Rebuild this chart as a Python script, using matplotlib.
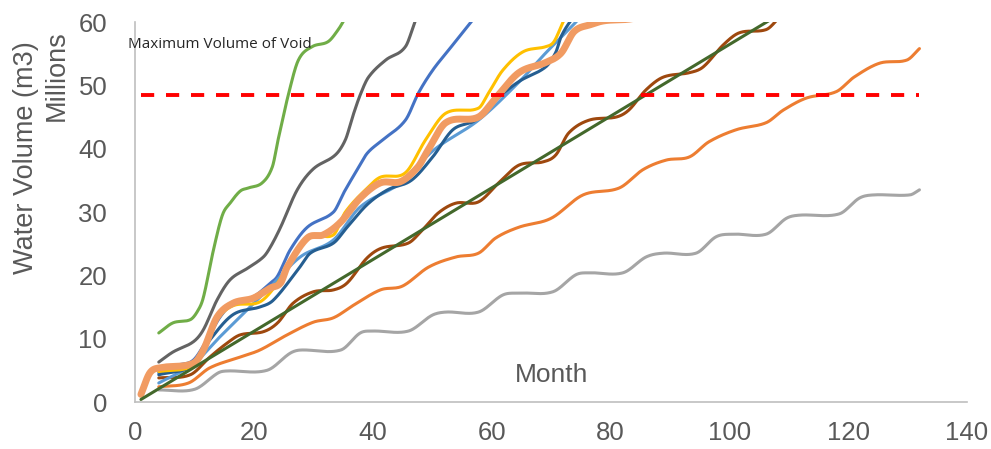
import numpy as np
import matplotlib
matplotlib.use("Agg")
import matplotlib.pyplot as plt

plt.rcParams["font.family"] = ["Liberation Sans", "DejaVu Sans"]
plt.rcParams["lines.scale_dashes"] = False

# ---- data: cumulative water volume (millions of m3) by month ----
green_month = [4, 6.4, 9.3, 10.5, 11.5, 13.2, 14.7, 16, 17.7, 19.1, 21.4, 23.1, 24.1, 25.8, 27.5, 29.8, 32.5, 34.2, 35.3, 36.5]
green_vol = [10.9, 12.5, 13.0, 14.3, 16.5, 24.0, 29.5, 31.4, 33.3, 33.8, 34.6, 37.1, 41.5, 48.5, 54.0, 56.1, 56.9, 58.8, 60.5, 62.5]

dgrey_month = [4, 6.4, 9.8, 11.5, 13.8, 16, 18.9, 21.6, 22.8, 24.5, 27.3, 30, 33.7, 35.4, 36.6, 37.9, 39.3, 42.2, 45.5, 47.3, 48.5]
dgrey_vol = [6.3, 7.9, 9.5, 11.4, 16.1, 19.3, 21.1, 22.9, 24.5, 27.6, 33.5, 36.8, 39.0, 41.4, 45.0, 48.5, 51.3, 54.0, 56.1, 60.5, 62.5]

blue_month = [4, 7.1, 9.8, 12.1, 14.3, 16.5, 19.9, 22.8, 24, 26.1, 29, 33.4, 35.1, 37.4, 39.1, 41.7, 45.5, 47.7, 50.1, 52.8, 56.8, 58]
blue_vol = [4.6, 5.8, 6.6, 9.8, 13.4, 15.6, 16.6, 18.8, 19.9, 24.0, 27.6, 30.0, 33.0, 36.7, 39.3, 41.4, 44.5, 48.8, 52.4, 55.6, 60.3, 62.0]

lblue_month = [4, 9.8, 14.3, 22.3, 27.8, 33.4, 37.9, 44.7, 50.3, 57.8, 64.6, 69.1, 74.5, 76]
lblue_vol = [3.0, 6.0, 10.3, 17.7, 22.9, 25.6, 30.8, 34.6, 39.8, 44.5, 50.5, 55.1, 60.3, 62.0]

dblue_month = [4, 9.8, 12.6, 16.5, 21, 23.3, 27.5, 29.5, 33.4, 35.7, 39.1, 42.5, 46.5, 50.1, 53.5, 57.3, 60.7, 64.6, 69.1, 70.8, 71.7, 73.4, 75]
dblue_vol = [4.3, 5.8, 9.8, 13.8, 15.0, 16.1, 21.0, 23.5, 25.1, 27.6, 31.2, 33.5, 35.0, 38.7, 43.0, 44.5, 47.7, 50.6, 52.9, 55.2, 57.7, 60.3, 62.0]

yellow_month = [4, 10, 12, 13.8, 16.5, 21, 24, 26.6, 29.5, 33.4, 35.4, 39.1, 41.3, 45.5, 48.9, 52.3, 57.8, 59.5, 61.9, 65.3, 69.1, 70.5, 72.2, 73.5]
yellow_vol = [4.8, 5.8, 9.0, 13.0, 15.2, 15.8, 18.8, 22.9, 26.2, 26.4, 30.0, 33.8, 35.5, 36.2, 41.4, 45.6, 46.4, 48.8, 52.4, 55.3, 56.1, 56.9, 60.3, 62.0]

lorange_month = [1, 2.5, 4.2, 9.8, 11.5, 13.8, 16.5, 19.9, 22.8, 24.5, 25.6, 29, 31.7, 34.6, 37.9, 41.3, 44.7, 47.6, 49.2, 52.3, 57.8, 60.7, 64.6, 69.1, 71.7, 73.9, 76.7, 79, 84, 87]
lorange_vol = [1.2, 4.6, 5.4, 6.1, 8.2, 13.4, 15.6, 16.4, 18.0, 18.8, 21.3, 25.9, 26.4, 28.4, 32.2, 34.6, 34.8, 37.1, 39.6, 44.1, 45.0, 48.0, 52.0, 53.6, 55.1, 58.5, 59.6, 60.2, 60.6, 62.0]

brown_month = [4, 9.3, 12.6, 15.5, 17.7, 21.6, 24, 26.6, 30, 33.4, 35.7, 39, 41.5, 46, 48.4, 51.1, 54, 57.8, 61.2, 64.6, 68.6, 70.8, 73, 76.4, 81, 83.1, 86, 88.9, 93.3, 95.6, 99, 101.7, 106.2, 108, 110]
brown_vol = [3.8, 4.3, 7.1, 9.3, 10.6, 11.1, 12.5, 15.6, 17.4, 17.7, 18.8, 22.7, 24.3, 25.1, 27.2, 29.9, 31.4, 31.6, 34.6, 37.4, 37.9, 39.0, 42.5, 44.5, 45.0, 46.1, 49.3, 51.3, 52.0, 52.9, 56.4, 58.3, 58.8, 60.3, 62.5]

trend_month = [1, 107]
trend_vol = [0.4, 60.4]

orange_month = [4, 9, 12.6, 17.7, 21, 25.6, 30, 33.4, 36.8, 41.3, 45, 49.4, 54, 57.8, 60.7, 64.6, 70, 75.4, 81.5, 85.5, 89.4, 93.3, 96.6, 101.2, 106.2, 109.1, 113, 118, 121, 125.3, 129.9, 132]
orange_vol = [2.4, 3.0, 5.4, 7.1, 8.2, 10.6, 12.6, 13.3, 15.3, 17.7, 18.3, 21.3, 22.9, 23.5, 25.9, 27.6, 29.0, 32.7, 33.8, 36.7, 38.2, 38.7, 41.1, 43.0, 44.1, 46.1, 48.0, 49.0, 51.3, 53.5, 54.0, 55.8]

grey_month = [4, 10, 14, 15.5, 22.2, 26.1, 27.8, 34.6, 37.9, 40, 46, 50, 52.3, 57.8, 61.9, 64.6, 70.3, 74.2, 76.4, 82.1, 86, 88.9, 94.4, 97.8, 100.7, 106.2, 109.6, 111.8, 118.5, 121.9, 124.3, 130.4, 132]
grey_vol = [1.9, 2.0, 4.6, 4.9, 5.0, 7.7, 8.2, 8.2, 10.9, 11.2, 11.2, 13.7, 14.2, 14.2, 16.9, 17.2, 17.4, 20.1, 20.4, 20.4, 22.9, 23.5, 23.5, 26.1, 26.5, 26.5, 29.0, 29.5, 29.7, 32.2, 32.7, 32.7, 33.5]

void_month = [1, 132]
void_vol = [48.4, 48.4]

x_ticks = [0, 20, 40, 60, 80, 100, 120, 140]
y_ticks = [0, 10, 20, 30, 40, 50, 60]


def smooth(xk, yk, n=800):
    """Smoothed line through the knots (cubic Hermite, Catmull-Rom tangents)."""
    x = np.asarray(xk, float)
    y = np.asarray(yk, float)
    if len(x) < 3:
        return x, y
    h = np.diff(x)
    m = np.empty_like(y)
    m[0] = (y[1] - y[0]) / h[0]
    m[-1] = (y[-1] - y[-2]) / h[-1]
    m[1:-1] = (y[2:] - y[:-2]) / (x[2:] - x[:-2])
    xs = np.linspace(x[0], x[-1], n)
    i = np.clip(np.searchsorted(x, xs) - 1, 0, len(h) - 1)
    t = (xs - x[i]) / h[i]
    h00 = 2 * t**3 - 3 * t**2 + 1
    h10 = t**3 - 2 * t**2 + t
    h01 = -2 * t**3 + 3 * t**2
    h11 = t**3 - t**2
    ys = h00 * y[i] + h10 * h[i] * m[i] + h01 * y[i + 1] + h11 * h[i] * m[i + 1]
    return xs, ys


fig = plt.figure(figsize=(9.91, 4.49), dpi=100)
ax = fig.add_axes([135 / 991, 47 / 449, 832 / 991, 380 / 449])

series = [
    (grey_month, grey_vol, "#A5A5A5", 2.2),
    (orange_month, orange_vol, "#ED7D31", 2.2),
    (brown_month, brown_vol, "#9E480E", 2.2),
    (green_month, green_vol, "#70AD47", 2.2),
    (dgrey_month, dgrey_vol, "#636363", 2.2),
    (blue_month, blue_vol, "#4472C4", 2.2),
    (lblue_month, lblue_vol, "#5B9BD5", 2.2),
    (dblue_month, dblue_vol, "#255E91", 2.2),
    (yellow_month, yellow_vol, "#FFC000", 2.2),
    (lorange_month, lorange_vol, "#F19B62", 5.0),
]
for mx, vy, col, lw in series:
    xs, ys = smooth(mx, vy)
    ax.plot(xs, ys, color=col, lw=lw, solid_capstyle="round", solid_joinstyle="round")

ax.plot(trend_month, trend_vol, color="#43682B", lw=2.2, solid_capstyle="round")
ax.plot(void_month, void_vol, color="#FF0000", lw=2.8, dashes=(9.5, 8.5),
        dash_capstyle="butt")

ax.set_xlim(0, 140)
ax.set_ylim(0, 60)
ax.set_xticks(x_ticks)
ax.set_yticks(y_ticks)
ax.tick_params(length=0, labelsize=18.5, labelcolor="#595959")
ax.tick_params(axis="x", pad=14)
ax.tick_params(axis="y", pad=20)
for s in ("top", "right"):
    ax.spines[s].set_visible(False)
for s in ("left", "bottom"):
    ax.spines[s].set_color("#BFBFBF")
    ax.spines[s].set_linewidth(1.2)

fig.text(552 / 991, 1 - 375 / 449, "Month", ha="center", va="center",
         fontsize=19, color="#595959")
fig.text(26 / 991, 1 - 158 / 449, "Water Volume (m3)", rotation=90,
         ha="center", va="center", fontsize=19.5, color="#595959")
fig.text(57 / 991, 1 - 76 / 449, "Millions", rotation=90,
         ha="center", va="center", fontsize=19.5, color="#595959")
fig.text(128 / 991, 1 - 44 / 449, "Maximum Volume of Void", ha="left", va="center",
         fontsize=11, color="#262626", family=["Open Sans", "DejaVu Sans"])

fig.savefig("out.png", dpi=100)
